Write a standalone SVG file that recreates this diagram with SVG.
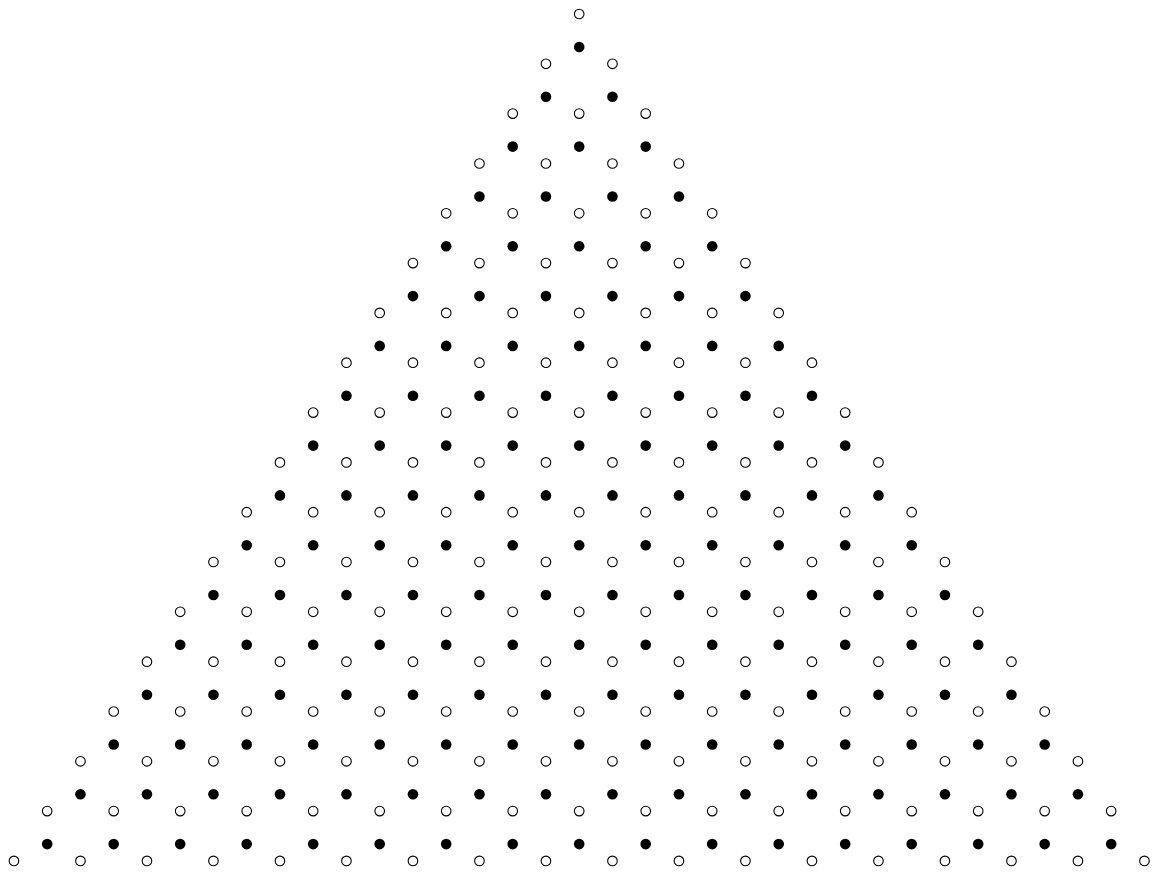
<svg xmlns="http://www.w3.org/2000/svg" width="1152" height="873" viewBox="0 0 1152 873">
<style>
.o circle{fill:#fff;stroke:#000;stroke-width:1.1;r:4.8px}
.f circle{fill:#000;stroke:none;r:5.3px}
</style>
<rect width="1152" height="873" fill="#fff"/>
<g id="open-dots" class="o">
<g transform="translate(0,14)"><circle cx="579.2"/></g>
<g transform="translate(0,63.8)"><circle cx="545.95"/><circle cx="612.45"/></g>
<g transform="translate(0,113.6)"><circle cx="512.7"/><circle cx="579.2"/><circle cx="645.7"/></g>
<g transform="translate(0,163.5)"><circle cx="479.45"/><circle cx="545.95"/><circle cx="612.45"/><circle cx="678.95"/></g>
<g transform="translate(0,213.3)"><circle cx="446.2"/><circle cx="512.7"/><circle cx="579.2"/><circle cx="645.7"/><circle cx="712.2"/></g>
<g transform="translate(0,263.1)"><circle cx="412.95"/><circle cx="479.45"/><circle cx="545.95"/><circle cx="612.45"/><circle cx="678.95"/><circle cx="745.45"/></g>
<g transform="translate(0,312.9)"><circle cx="379.7"/><circle cx="446.2"/><circle cx="512.7"/><circle cx="579.2"/><circle cx="645.7"/><circle cx="712.2"/><circle cx="778.7"/></g>
<g transform="translate(0,362.7)"><circle cx="346.45"/><circle cx="412.95"/><circle cx="479.45"/><circle cx="545.95"/><circle cx="612.45"/><circle cx="678.95"/><circle cx="745.45"/><circle cx="811.95"/></g>
<g transform="translate(0,412.6)"><circle cx="313.2"/><circle cx="379.7"/><circle cx="446.2"/><circle cx="512.7"/><circle cx="579.2"/><circle cx="645.7"/><circle cx="712.2"/><circle cx="778.7"/><circle cx="845.2"/></g>
<g transform="translate(0,462.4)"><circle cx="279.95"/><circle cx="346.45"/><circle cx="412.95"/><circle cx="479.45"/><circle cx="545.95"/><circle cx="612.45"/><circle cx="678.95"/><circle cx="745.45"/><circle cx="811.95"/><circle cx="878.45"/></g>
<g transform="translate(0,512.2)"><circle cx="246.7"/><circle cx="313.2"/><circle cx="379.7"/><circle cx="446.2"/><circle cx="512.7"/><circle cx="579.2"/><circle cx="645.7"/><circle cx="712.2"/><circle cx="778.7"/><circle cx="845.2"/><circle cx="911.7"/></g>
<g transform="translate(0,562)"><circle cx="213.45"/><circle cx="279.95"/><circle cx="346.45"/><circle cx="412.95"/><circle cx="479.45"/><circle cx="545.95"/><circle cx="612.45"/><circle cx="678.95"/><circle cx="745.45"/><circle cx="811.95"/><circle cx="878.45"/><circle cx="944.95"/></g>
<g transform="translate(0,611.8)"><circle cx="180.2"/><circle cx="246.7"/><circle cx="313.2"/><circle cx="379.7"/><circle cx="446.2"/><circle cx="512.7"/><circle cx="579.2"/><circle cx="645.7"/><circle cx="712.2"/><circle cx="778.7"/><circle cx="845.2"/><circle cx="911.7"/><circle cx="978.2"/></g>
<g transform="translate(0,661.7)"><circle cx="146.95"/><circle cx="213.45"/><circle cx="279.95"/><circle cx="346.45"/><circle cx="412.95"/><circle cx="479.45"/><circle cx="545.95"/><circle cx="612.45"/><circle cx="678.95"/><circle cx="745.45"/><circle cx="811.95"/><circle cx="878.45"/><circle cx="944.95"/><circle cx="1011.45"/></g>
<g transform="translate(0,711.5)"><circle cx="113.7"/><circle cx="180.2"/><circle cx="246.7"/><circle cx="313.2"/><circle cx="379.7"/><circle cx="446.2"/><circle cx="512.7"/><circle cx="579.2"/><circle cx="645.7"/><circle cx="712.2"/><circle cx="778.7"/><circle cx="845.2"/><circle cx="911.7"/><circle cx="978.2"/><circle cx="1044.7"/></g>
<g transform="translate(0,761.3)"><circle cx="80.45"/><circle cx="146.95"/><circle cx="213.45"/><circle cx="279.95"/><circle cx="346.45"/><circle cx="412.95"/><circle cx="479.45"/><circle cx="545.95"/><circle cx="612.45"/><circle cx="678.95"/><circle cx="745.45"/><circle cx="811.95"/><circle cx="878.45"/><circle cx="944.95"/><circle cx="1011.45"/><circle cx="1077.95"/></g>
<g transform="translate(0,811.1)"><circle cx="47.2"/><circle cx="113.7"/><circle cx="180.2"/><circle cx="246.7"/><circle cx="313.2"/><circle cx="379.7"/><circle cx="446.2"/><circle cx="512.7"/><circle cx="579.2"/><circle cx="645.7"/><circle cx="712.2"/><circle cx="778.7"/><circle cx="845.2"/><circle cx="911.7"/><circle cx="978.2"/><circle cx="1044.7"/><circle cx="1111.2"/></g>
<g transform="translate(0,860.9)"><circle cx="13.95"/><circle cx="80.45"/><circle cx="146.95"/><circle cx="213.45"/><circle cx="279.95"/><circle cx="346.45"/><circle cx="412.95"/><circle cx="479.45"/><circle cx="545.95"/><circle cx="612.45"/><circle cx="678.95"/><circle cx="745.45"/><circle cx="811.95"/><circle cx="878.45"/><circle cx="944.95"/><circle cx="1011.45"/><circle cx="1077.95"/><circle cx="1144.45"/></g>
</g>
<g id="filled-dots" class="f">
<g transform="translate(0,47)"><circle cx="579.2"/></g>
<g transform="translate(0,96.8)"><circle cx="545.95"/><circle cx="612.45"/></g>
<g transform="translate(0,146.6)"><circle cx="512.7"/><circle cx="579.2"/><circle cx="645.7"/></g>
<g transform="translate(0,196.5)"><circle cx="479.45"/><circle cx="545.95"/><circle cx="612.45"/><circle cx="678.95"/></g>
<g transform="translate(0,246.3)"><circle cx="446.2"/><circle cx="512.7"/><circle cx="579.2"/><circle cx="645.7"/><circle cx="712.2"/></g>
<g transform="translate(0,296.1)"><circle cx="412.95"/><circle cx="479.45"/><circle cx="545.95"/><circle cx="612.45"/><circle cx="678.95"/><circle cx="745.45"/></g>
<g transform="translate(0,345.9)"><circle cx="379.7"/><circle cx="446.2"/><circle cx="512.7"/><circle cx="579.2"/><circle cx="645.7"/><circle cx="712.2"/><circle cx="778.7"/></g>
<g transform="translate(0,395.7)"><circle cx="346.45"/><circle cx="412.95"/><circle cx="479.45"/><circle cx="545.95"/><circle cx="612.45"/><circle cx="678.95"/><circle cx="745.45"/><circle cx="811.95"/></g>
<g transform="translate(0,445.6)"><circle cx="313.2"/><circle cx="379.7"/><circle cx="446.2"/><circle cx="512.7"/><circle cx="579.2"/><circle cx="645.7"/><circle cx="712.2"/><circle cx="778.7"/><circle cx="845.2"/></g>
<g transform="translate(0,495.4)"><circle cx="279.95"/><circle cx="346.45"/><circle cx="412.95"/><circle cx="479.45"/><circle cx="545.95"/><circle cx="612.45"/><circle cx="678.95"/><circle cx="745.45"/><circle cx="811.95"/><circle cx="878.45"/></g>
<g transform="translate(0,545.2)"><circle cx="246.7"/><circle cx="313.2"/><circle cx="379.7"/><circle cx="446.2"/><circle cx="512.7"/><circle cx="579.2"/><circle cx="645.7"/><circle cx="712.2"/><circle cx="778.7"/><circle cx="845.2"/><circle cx="911.7"/></g>
<g transform="translate(0,595)"><circle cx="213.45"/><circle cx="279.95"/><circle cx="346.45"/><circle cx="412.95"/><circle cx="479.45"/><circle cx="545.95"/><circle cx="612.45"/><circle cx="678.95"/><circle cx="745.45"/><circle cx="811.95"/><circle cx="878.45"/><circle cx="944.95"/></g>
<g transform="translate(0,644.8)"><circle cx="180.2"/><circle cx="246.7"/><circle cx="313.2"/><circle cx="379.7"/><circle cx="446.2"/><circle cx="512.7"/><circle cx="579.2"/><circle cx="645.7"/><circle cx="712.2"/><circle cx="778.7"/><circle cx="845.2"/><circle cx="911.7"/><circle cx="978.2"/></g>
<g transform="translate(0,694.7)"><circle cx="146.95"/><circle cx="213.45"/><circle cx="279.95"/><circle cx="346.45"/><circle cx="412.95"/><circle cx="479.45"/><circle cx="545.95"/><circle cx="612.45"/><circle cx="678.95"/><circle cx="745.45"/><circle cx="811.95"/><circle cx="878.45"/><circle cx="944.95"/><circle cx="1011.45"/></g>
<g transform="translate(0,744.5)"><circle cx="113.7"/><circle cx="180.2"/><circle cx="246.7"/><circle cx="313.2"/><circle cx="379.7"/><circle cx="446.2"/><circle cx="512.7"/><circle cx="579.2"/><circle cx="645.7"/><circle cx="712.2"/><circle cx="778.7"/><circle cx="845.2"/><circle cx="911.7"/><circle cx="978.2"/><circle cx="1044.7"/></g>
<g transform="translate(0,794.3)"><circle cx="80.45"/><circle cx="146.95"/><circle cx="213.45"/><circle cx="279.95"/><circle cx="346.45"/><circle cx="412.95"/><circle cx="479.45"/><circle cx="545.95"/><circle cx="612.45"/><circle cx="678.95"/><circle cx="745.45"/><circle cx="811.95"/><circle cx="878.45"/><circle cx="944.95"/><circle cx="1011.45"/><circle cx="1077.95"/></g>
<g transform="translate(0,844.1)"><circle cx="47.2"/><circle cx="113.7"/><circle cx="180.2"/><circle cx="246.7"/><circle cx="313.2"/><circle cx="379.7"/><circle cx="446.2"/><circle cx="512.7"/><circle cx="579.2"/><circle cx="645.7"/><circle cx="712.2"/><circle cx="778.7"/><circle cx="845.2"/><circle cx="911.7"/><circle cx="978.2"/><circle cx="1044.7"/><circle cx="1111.2"/></g>
</g>
</svg>
